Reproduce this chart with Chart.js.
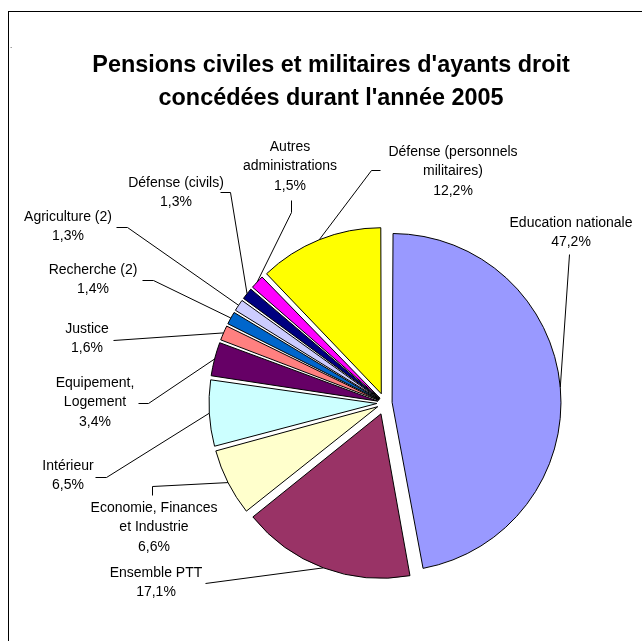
<!DOCTYPE html>
<html>
<head>
<meta charset="utf-8">
<script src="https://cdn.jsdelivr.net/npm/chart.js@4"></script>
<style>
  body { margin: 0; background: #fff; }
</style>
</head>
<body>
<canvas id="myChart" width="642" height="641"></canvas>
<script>
// data, clockwise from 12 o'clock
const categories = [
    'Education nationale',
    'Ensemble PTT',
    'Economie, Finances\net Industrie',
    'Intérieur',
    'Equipement,\nLogement',
    'Justice',
    'Recherche (2)',
    'Agriculture (2)',
    'Défense (civils)',
    'Autres\nadministrations',
    'Défense (personnels\nmilitaires)'
];
const shares = [47.2, 17.1, 6.6, 6.5, 3.4, 1.6, 1.4, 1.3, 1.3, 1.5, 12.2];
const colors = ['#9999FF', '#993366', '#FFFFCC', '#CCFFFF', '#660066', '#FF8080',
    '#0066CC', '#CCCCFF', '#000080', '#FF00FF', '#FFFF00'];
const titleLines = ["Pensions civiles et militaires d'ayants droit", "concédées durant l'année 2005"];

// where each label sits (centre of first line) and the leader line bends near it
const labelAt = [
    [571, 223], [156, 573], [154, 508], [68, 466], [95, 383], [87, 329],
    [93, 270], [68, 217], [176, 183], [290, 147], [453, 152]
];
const leaderBends = [
    [[569, 254]],
    [[205, 583]],
    [[152, 495], [152, 486]],
    [[95, 477], [106, 477]],
    [[138, 403], [148, 403]],
    [[113, 340]],
    [[142, 280], [153, 280]],
    [[116, 227], [127, 227]],
    [[220, 192], [230, 192]],
    [[291, 200], [291, 212]],
    [[380, 170], [371, 170]]
];

const explode = 13;   // px every slice is pulled out
const total = shares.reduce((a, b) => a + b, 0);

// chart.js moves an arc by offset/4*(2-sin(c)), so undo that to get a fixed gap
function sliceOffset(ctx) {
    const c = Math.min(Math.PI, ctx.parsed / total * 2 * Math.PI);
    return explode * 4 / (2 - Math.sin(c));
}

const fmt = v => v.toFixed(1).replace('.', ',') + '%';

const decorations = {
    id: 'decorations',
    beforeDraw(chart) {
        const c = chart.ctx;
        c.save();
        c.fillStyle = '#fff';
        c.fillRect(0, 0, chart.width, chart.height);
        c.strokeStyle = '#000';
        c.lineWidth = 1;
        c.strokeRect(8.5, 11.5, 700, 700);
        c.fillStyle = '#000';
        c.font = '8px "Liberation Sans"';
        c.fillText('.', 10, 48);
        c.font = 'bold 23.4px "Liberation Sans"';
        c.textAlign = 'center';
        c.textBaseline = 'middle';
        titleLines.forEach((t, i) => c.fillText(t, 331, 66 + i * 33));
        c.restore();
    },
    afterDatasetsDraw(chart) {
        const c = chart.ctx;
        const arcs = chart.getDatasetMeta(0).data;
        c.save();
        c.strokeStyle = '#000';
        c.lineWidth = 1;
        arcs.forEach((arc, i) => {
            const mid = (arc.startAngle + arc.endAngle) / 2;
            const r = arc.outerRadius + explode;
            const px = arc.x + Math.cos(mid) * r;
            const py = arc.y + Math.sin(mid) * r;
            const pts = leaderBends[i];
            c.beginPath();
            c.moveTo(pts[0][0] + 0.5, pts[0][1] + 0.5);
            for (let k = 1; k < pts.length; k++) c.lineTo(pts[k][0] + 0.5, pts[k][1] + 0.5);
            c.lineTo(px, py);
            c.stroke();
        });
        c.fillStyle = '#000';
        c.font = '14px "Liberation Sans"';
        c.textAlign = 'center';
        c.textBaseline = 'middle';
        categories.forEach((name, i) => {
            const lines = name.split('\n').concat(fmt(shares[i]));
            lines.forEach((t, k) => c.fillText(t, labelAt[i][0], labelAt[i][1] + k * 19.5));
        });
        c.restore();
    }
};

let ctx = document.getElementById('myChart').getContext('2d');
const myChart = new Chart(ctx, {
    type: 'pie',
    data: {
        labels: categories,
        datasets: [{
            data: shares,
            backgroundColor: colors,
            borderColor: '#000',
            borderWidth: 1,
            offset: sliceOffset,
            radius: 163
        }]
    },
    options: {
        responsive: false,
        animation: false,
        layout: { padding: { left: 128, top: 165, right: 0, bottom: 0 } },
        plugins: {
            legend: { display: false },
            tooltip: { enabled: false }
        }
    },
    plugins: [decorations]
});
</script>
</body>
</html>
